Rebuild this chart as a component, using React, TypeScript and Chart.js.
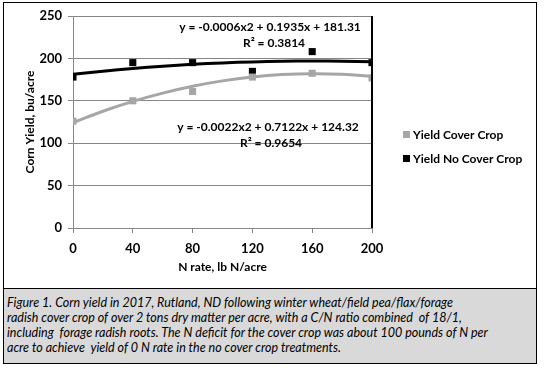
import React, { useEffect, useRef } from "react";
import { Chart, registerables } from "chart.js";

Chart.register(...registerables);

// ---- data ----
const nRates = [0, 40, 80, 120, 160, 200];
const yieldCoverCrop = [126, 150, 161, 178, 182.5, 177];
const yieldNoCoverCrop = [178, 195, 195, 184.7, 208, 195];

// trendline values
const trendX = [0, 20, 40, 60, 80, 100, 120, 140, 160, 180, 200];
const trendCoverCrop = [124.3, 137.7, 149.3, 159.1, 167.2, 173.5, 178.1, 180.9, 181.9, 181.2, 178.8];
const trendNoCoverCrop = [181.3, 184.9, 188.1, 190.8, 193.0, 194.7, 195.9, 196.6, 196.9, 196.7, 196.0];

const seriesNames = ["Yield Cover Crop", "Yield No Cover Crop"];
const eqNoCover = ["y = -0.0006x2 + 0.1935x + 181.31", "R\u00b2 = 0.3814"];
const eqCover = ["y = -0.0022x2 + 0.7122x + 124.32", "R\u00b2 = 0.9654"];

const xTitle = "N rate, lb N/acre";
const yTitle = "Corn Yield, bu/acre";

const captionLines = [
  "Figure 1. Corn yield in 2017, Rutland, ND following winter wheat/field pea/flax/forage",
  "radish cover crop of over 2 tons dry matter per acre, with a C/N ratio combined  of 18/1,",
  "including  forage radish roots. The N deficit for the cover crop was about 100 pounds of N per",
  "acre to achieve  yield of 0 N rate in the no cover crop treatments.",
];

const GRAY = "#a6a6a6";
const GRID = "#868686";
const FONT = "Lato, 'Open Sans', sans-serif";

const pts = (xs: number[], ys: number[]) => xs.map((x, i) => ({ x, y: ys[i] }));

export default function App() {
  const ref = useRef<HTMLCanvasElement | null>(null);

  useEffect(() => {
    if (!ref.current) return;

    const overlay = {
      id: "overlay",
      afterDraw(chart: any) {
        const { ctx, chartArea } = chart;
        ctx.save();
        // right plot border
        ctx.strokeStyle = "#000";
        ctx.lineWidth = 2;
        ctx.beginPath();
        ctx.moveTo(chartArea.right, chartArea.top);
        ctx.lineTo(chartArea.right, chartArea.bottom);
        ctx.stroke();

        // equations
        ctx.fillStyle = "#000";
        ctx.font = `bold 12px ${FONT}`;
        ctx.textAlign = "center";
        ctx.textBaseline = "middle";
        ctx.fillText(eqNoCover[0], 270, 27);
        ctx.fillText(eqNoCover[1], 274, 43);
        ctx.fillText(eqCover[0], 268, 127);
        ctx.fillText(eqCover[1], 271, 143);

        // legend
        ctx.textAlign = "left";
        ctx.font = `bold 12px ${FONT}`;
        ctx.fillStyle = GRAY;
        ctx.fillRect(403, 131, 7, 7);
        ctx.fillStyle = "#000";
        ctx.fillText(seriesNames[0], 413, 135);
        ctx.fillRect(403, 155, 7, 7);
        ctx.fillText(seriesNames[1], 413, 159);
        ctx.restore();
      },
    };

    const chart = new Chart(ref.current, {
      type: "scatter",
      data: {
        datasets: [
          {
            type: "line",
            label: "trend cover",
            data: pts(trendX, trendCoverCrop),
            borderColor: GRAY,
            borderWidth: 3,
            pointRadius: 0,
            tension: 0.4,
            fill: false,
          },
          {
            type: "line",
            label: "trend no cover",
            data: pts(trendX, trendNoCoverCrop),
            borderColor: "#000",
            borderWidth: 3,
            pointRadius: 0,
            tension: 0.4,
            fill: false,
          },
          {
            label: seriesNames[0],
            data: pts(nRates, yieldCoverCrop),
            backgroundColor: GRAY,
            borderColor: GRAY,
            borderWidth: 0,
            pointStyle: "rect",
            pointRadius: 5,
          },
          {
            label: seriesNames[1],
            data: pts(nRates, yieldNoCoverCrop),
            backgroundColor: "#000",
            borderColor: "#000",
            borderWidth: 0,
            pointStyle: "rect",
            pointRadius: 5,
          },
        ],
      },
      options: {
        responsive: false,
        animation: false,
        devicePixelRatio: 1,
        layout: { padding: { left: 19, right: 181, top: 16, bottom: 12 } },
        plugins: { legend: { display: false }, tooltip: { enabled: false } },
        scales: {
          x: {
            type: "linear",
            min: 0,
            max: 200,
            ticks: { stepSize: 40, color: "#000", font: { family: FONT, size: 13, weight: "bold" }, padding: 8 },
            grid: { drawOnChartArea: false, drawTicks: true, tickLength: 5, color: GRID },
            border: { color: GRID },
            title: { display: true, text: xTitle, color: "#000", font: { family: FONT, size: 12, weight: "bold" } },
            afterFit: (s: any) => { s.height = 50; },
          },
          y: {
            min: 0,
            max: 250,
            ticks: { stepSize: 50, color: "#000", font: { family: FONT, size: 13, weight: "bold" }, padding: 6 },
            grid: { color: GRID, tickLength: 5 },
            border: { color: GRID },
            title: { display: true, text: yTitle, color: "#000", font: { family: FONT, size: 12, weight: "bold" } },
            afterFit: (s: any) => { s.width = 54; },
          },
        },
      },
      plugins: [overlay],
    } as any);

    return () => chart.destroy();
  }, []);

  return (
    <div style={{ position: "fixed", left: 0, top: 0, width: 553, height: 368, background: "#fff", overflow: "hidden" }}>
      <div style={{ position: "absolute", left: 3, top: 2, width: 534, height: 287, border: "1px solid #000", boxSizing: "border-box" }} />
      <div
        style={{
          position: "absolute",
          left: 3,
          top: 288,
          width: 534,
          height: 76,
          border: "1px solid #000",
          boxSizing: "border-box",
          background: "#d9d9d9",
          fontFamily: FONT,
          fontStyle: "italic",
          fontSize: 12.5,
          lineHeight: "15px",
          padding: "6px 0 0 3px",
          whiteSpace: "pre",
          color: "#000",
        }}
      >
        {captionLines.map((l, i) => (
          <div key={i}>{l}</div>
        ))}
      </div>
      <canvas ref={ref} width={553} height={290} style={{ position: "absolute", left: 0, top: 0, width: 553, height: 290 }} />
    </div>
  );
}
